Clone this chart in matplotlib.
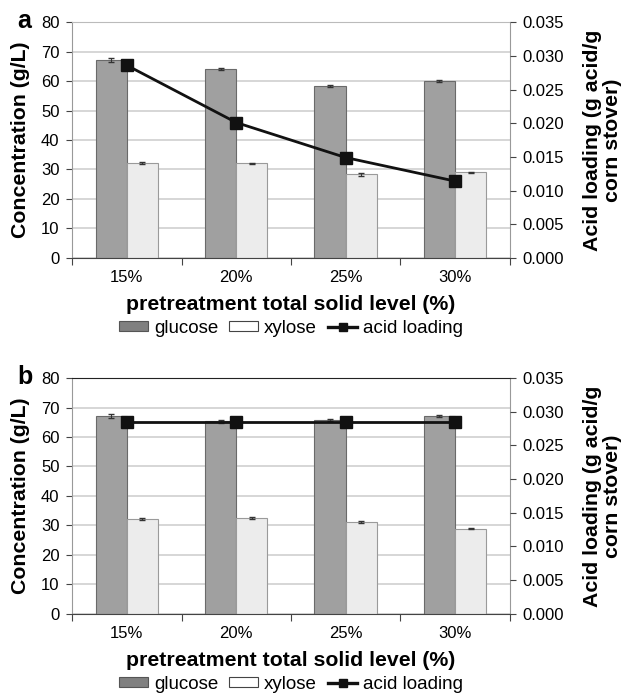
import numpy as np
import matplotlib
matplotlib.use("Agg")
import matplotlib.pyplot as plt
from matplotlib.patches import Patch
from matplotlib.lines import Line2D

plt.rcParams['font.family'] = ['Liberation Sans', 'DejaVu Sans']

levels = ["15%", "20%", "25%", "30%"]

# panel a
glucose_a = [67.2, 64.0, 58.4, 60.1]
glucose_a_err = [0.6, 0.3, 0.4, 0.3]
xylose_a = [32.1, 32.1, 28.3, 29.0]
xylose_a_err = [0.4, 0.2, 0.6, 0.2]
acid_a = [0.0286, 0.0201, 0.0149, 0.0114]

# panel b
glucose_b = [67.1, 65.3, 65.8, 67.1]
glucose_b_err = [0.6, 0.4, 0.3, 0.3]
xylose_b = [32.2, 32.5, 31.1, 28.9]
xylose_b_err = [0.4, 0.2, 0.3, 0.3]
acid_b = [0.0285, 0.0285, 0.0285, 0.0285]

GLU = "#a0a0a0"
GLU_EDGE = "#6a6a6a"
XYL = "#ececec"
XYL_EDGE = "#9a9a9a"

fig = plt.figure(figsize=(6.27, 6.95), dpi=100)


def draw_panel(rect, glu, glu_err, xyl, xyl_err, acid, letter, top_color):
    ax = fig.add_axes(rect)
    x = np.arange(len(levels))
    w = 0.285
    ax.set_axisbelow(True)
    ax.yaxis.grid(True, color="#cfcfcf", linewidth=1.2)
    ax.bar(x - w / 2, glu, w, color=GLU, edgecolor=GLU_EDGE, linewidth=0.8,
           yerr=glu_err, error_kw=dict(ecolor="#333333", capsize=2, elinewidth=0.8))
    ax.bar(x + w / 2, xyl, w, color=XYL, edgecolor=XYL_EDGE, linewidth=0.8,
           yerr=xyl_err, error_kw=dict(ecolor="#333333", capsize=2, elinewidth=0.8))
    ax.set_xlim(-0.5, len(levels) - 0.5)
    ax.set_ylim(0, 80)
    ax.set_yticks(np.arange(0, 81, 10))
    ax.set_xticks(np.arange(-0.5, len(levels), 1.0))
    ax.set_xticklabels([])
    ax.set_xticks(x, minor=True)
    ax.set_xticklabels(levels, minor=True)
    ax.tick_params(axis="x", which="minor", length=0, pad=9, labelsize=12)
    ax.tick_params(axis="x", which="major", length=5, color="#444444")
    ax.tick_params(axis="y", length=4, color="#444444", labelsize=12, pad=5)
    for s in ["left", "right"]:
        ax.spines[s].set_color("#999999")
    ax.spines["top"].set_color(top_color)
    ax.spines["bottom"].set_color("#444444")
    ax.set_ylabel("Concentration (g/L)", fontsize=15.3, fontweight="bold", labelpad=8)
    ax.set_xlabel("pretreatment total solid level (%)", fontsize=15.3,
                  fontweight="bold", labelpad=7)

    ax2 = ax.twinx()
    ax2.plot(x, acid, color="#111111", linewidth=2, marker="s", markersize=8,
             markerfacecolor="#111111", markeredgecolor="#111111")
    ax2.set_ylim(0, 0.035)
    ax2.set_yticks(np.arange(0, 0.0351, 0.005))
    ax2.set_yticklabels(["%.3f" % v for v in np.arange(0, 0.0351, 0.005)])
    ax2.tick_params(axis="y", length=4, color="#444444", labelsize=12, pad=5)
    for s in ax2.spines.values():
        s.set_visible(False)
    ax2.set_ylabel("Acid loading (g acid/g\ncorn stover)", fontsize=15.3,
                   fontweight="bold", labelpad=14, linespacing=1.05)

    fig.text(0.027, rect[1] + rect[3] + 0.002, letter, fontsize=18,
             fontweight="bold", va="center", ha="left")

    handles = [
        Patch(facecolor="#808080", edgecolor="#555555", linewidth=0.8),
        Patch(facecolor="white", edgecolor="#444444", linewidth=0.8),
        Line2D([0], [0], color="#111111", linewidth=2.4, marker="s", markersize=6),
    ]
    ax.legend(handles, ["glucose", "xylose", "acid loading"], ncol=3,
              loc="center", bbox_to_anchor=(0.5, -0.30), frameon=False,
              fontsize=13.5, handlelength=1.55, handleheight=0.45,
              columnspacing=0.6, handletextpad=0.3, borderaxespad=0)
    return ax


draw_panel([0.115, 0.629, 0.698, 0.339], glucose_a, glucose_a_err, xylose_a,
           xylose_a_err, acid_a, "a", "#bbbbbb")
draw_panel([0.115, 0.117, 0.698, 0.339], glucose_b, glucose_b_err, xylose_b,
           xylose_b_err, acid_b, "b", "#222222")

fig.savefig("out.png", dpi=100)
